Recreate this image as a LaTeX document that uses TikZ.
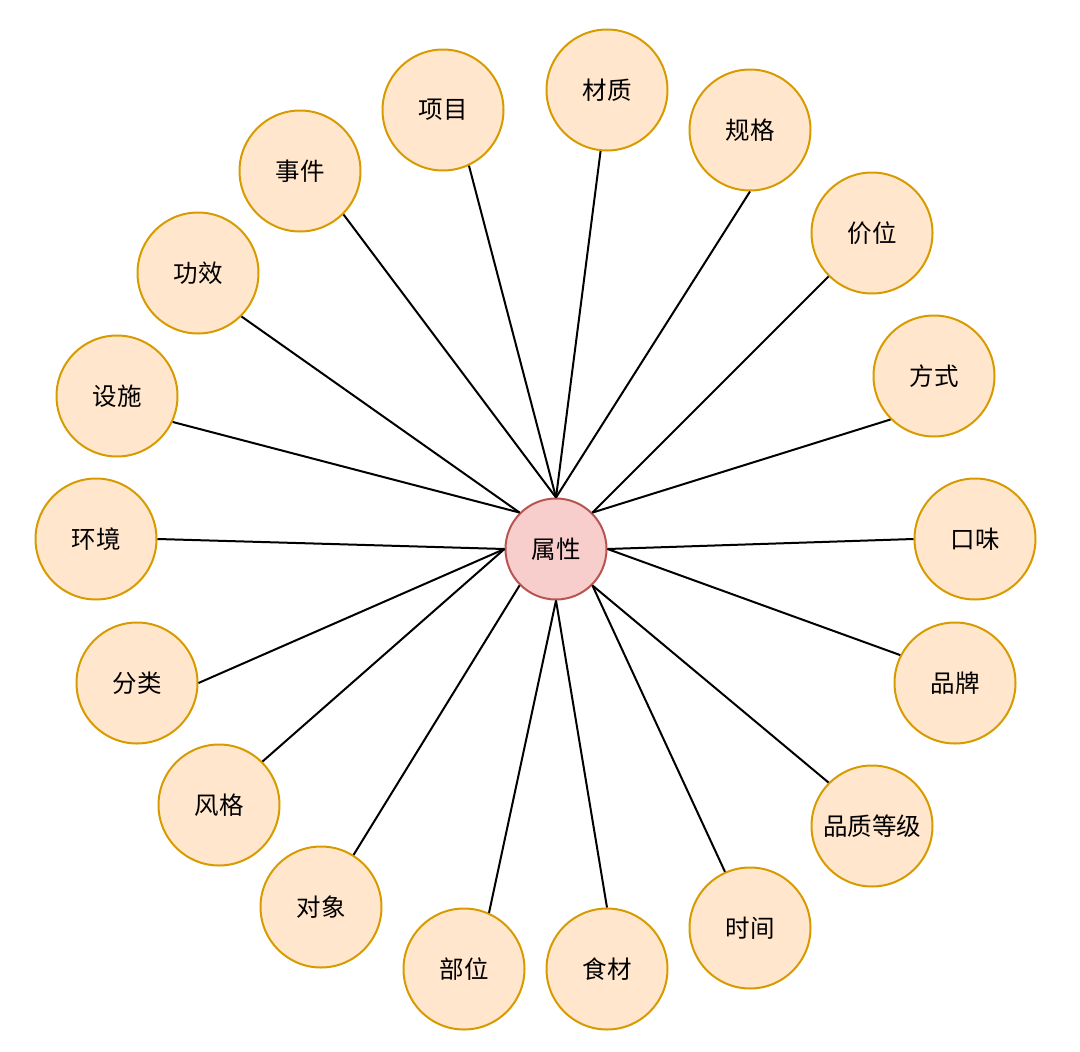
\documentclass[tikz,border=0pt]{standalone}
\usepackage{fontspec}
\newfontfamily\cjk{Noto Sans CJK SC}
\definecolor{ofill}{HTML}{FFE6CC}
\definecolor{odraw}{HTML}{D79B00}
\definecolor{cfill}{HTML}{F8CECC}
\definecolor{cdraw}{HTML}{B85450}
\begin{document}
\begin{tikzpicture}[x=1pt,y=-1pt,
  leaf/.style={circle,fill=ofill,draw=odraw,line width=2pt,minimum size=121pt,inner sep=0pt,font=\cjk\fontsize{24.5}{29}\selectfont},
  hub/.style={circle,fill=cfill,draw=cdraw,line width=2pt,minimum size=101pt,inner sep=0pt,font=\cjk\fontsize{24.5}{29}\selectfont},
  link/.style={line width=2pt,black}]
\useasboundingbox (0,0) rectangle (1080,1052);
\node[hub] (c) at (556,549) {属性};
\node[leaf] (n1) at (607,90) {材质};
\node[leaf] (n2) at (750,130) {规格};
\node[leaf] (n3) at (872,233) {价位};
\node[leaf] (n4) at (934,376) {方式};
\node[leaf] (n5) at (975,539) {口味};
\node[leaf] (n6) at (955,683) {品牌};
\node[leaf] (n7) at (872,826) {品质等级};
\node[leaf] (n8) at (750,928) {时间};
\node[leaf] (n9) at (607,969) {食材};
\node[leaf] (n10) at (464,969) {部位};
\node[leaf] (n11) at (321,907) {对象};
\node[leaf] (n12) at (219,805) {风格};
\node[leaf] (n13) at (137,683) {分类};
\node[leaf] (n14) at (96,539) {环境};
\node[leaf] (n15) at (117,396) {设施};
\node[leaf] (n16) at (198,273) {功效};
\node[leaf] (n17) at (300,171) {事件};
\node[leaf] (n18) at (443,110) {项目};
\foreach \n/\a/\b in {n1/north/-96,n2/north/-90,n17/north/-45,n18/north/-65,
  n3/north east/-135,n4/north east/-135,n5/east/180,n6/east/153,
  n7/south east/135,n8/south east/114,n9/south/90,n10/south/66,
  n11/south west/58,n12/west/45,n13/west/0,n14/west/0,
  n15/north west/-25,n16/north west/-45}
  \draw[link] (c.\a) -- (\n.\b);
\end{tikzpicture}
\end{document}
